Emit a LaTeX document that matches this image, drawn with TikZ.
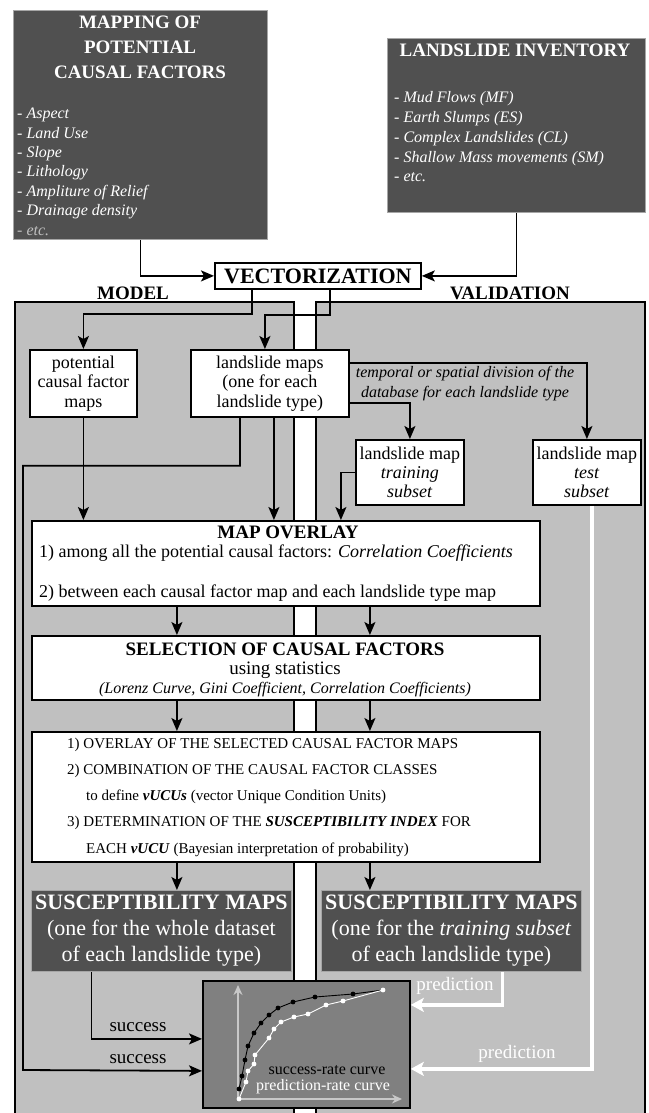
\documentclass[tikz,border=0pt]{standalone}
\usepackage{fontspec}
\setmainfont{Liberation Serif}
\usetikzlibrary{arrows.meta,calc}
\definecolor{darkfill}{RGB}{80,80,80}
\definecolor{panelfill}{RGB}{192,192,192}
\definecolor{chartfill}{RGB}{128,128,128}
\definecolor{axisgray}{RGB}{200,200,200}
\definecolor{etcgray}{RGB}{190,190,190}
\newcommand{\fsz}[2]{\fontsize{#1}{#2}\selectfont}
\begin{document}
\begin{tikzpicture}[x=1pt,y=-1pt,
  darkbx/.style={fill=darkfill, draw=gray!70, line width=0.8pt, inner sep=0pt, anchor=north west, text=white},
  whitebx/.style={fill=white, draw=black, line width=1.8pt, inner sep=0pt, anchor=north west, align=center},
  arr/.style={draw=black, line width=1.8pt, -{Stealth[length=13pt,width=11pt,inset=3pt]}},
  warr/.style={draw=white, line width=3.8pt, -{Stealth[length=13pt,width=14pt,inset=3pt]}},
  txt/.style={inner sep=0pt},
  panelline/.style={draw=black, line width=1.6pt},
]
\useasboundingbox (0,0) rectangle (648,1113);
\fill[white] (0,0) rectangle (648,1113);

% panels
\fill[panelfill] (15,302) rectangle (294,1113);
\draw[panelline] (15,1113) -- (15,302) -- (294,302) -- (294,1113);
\fill[panelfill] (316,302) rectangle (645,1113);
\draw[panelline] (316,1113) -- (316,302) -- (645,302) -- (645,1113);

% top boxes
\node[darkbx, minimum width=254, minimum height=229] (mapping) at (13,10) {};
\node[txt, anchor=north, text=white, font={\bfseries\fsz{19}{25}}, align=center] (mapT) at (140,16) {MAPPING OF\\POTENTIAL\\CAUSAL FACTORS};
\node[txt, anchor=north west, text=white, font={\itshape\fsz{16}{19.4}}, align=left] (mapI) at (17,108) {- Aspect\\- Land Use\\- Slope\\- Lithology\\- Ampliture of Relief\\- Drainage density\\\textcolor{etcgray}{- etc.}};

\node[darkbx, minimum width=258, minimum height=174] (inventory) at (387,38) {};
\node[txt, anchor=north, text=white, font={\bfseries\fsz{19}{25}}] (invT) at (515,44) {LANDSLIDE INVENTORY};
\node[txt, anchor=north west, text=white, font={\itshape\fsz{16}{19.9}}, align=left] (invI) at (394,91) {- Mud Flows (MF)\\- Earth Slumps (ES)\\- Complex Landslides (CL)\\- Shallow Mass movements (SM)\\- etc.};

% vectorization
\node[whitebx, minimum width=206, minimum height=26, font={\bfseries\fsz{22}{26}}] (vect) at (214,262) {VECTORIZATION};
\node[txt, font={\bfseries\fsz{19}{22}}] (model) at (133,293) {MODEL};
\node[txt, font={\bfseries\fsz{19}{22}}] (valid) at (510,293) {VALIDATION};

% second row
\node[whitebx, minimum width=107, minimum height=67, font={\fsz{18}{19.7}}] (potential) at (29,349) {potential\\causal factor\\maps};
\node[whitebx, minimum width=158, minimum height=67, font={\fsz{18}{19.7}}] (lsmaps) at (190,349) {landslide maps\\(one for each\\landslide type)};
\node[txt, font={\itshape\fsz{16}{20}}, align=center] (division) at (465,384) {temporal or spatial division of the\\database for each landslide type};
\node[whitebx, minimum width=108, minimum height=65, font={\fsz{18}{18.7}}] (train) at (355,439) {landslide map\\\textit{training}\\\textit{subset}};
\node[whitebx, minimum width=108, minimum height=65, font={\fsz{18}{18.7}}] (test) at (532,439) {landslide map\\\textit{test}\\\textit{subset}};

% map overlay
\node[whitebx, minimum width=508, minimum height=85] (overlay) at (31,520) {};
\node[txt, font={\bfseries\fsz{19}{22}}] (ovT) at (288,532) {MAP OVERLAY};
\node[txt, anchor=base west, font={\fsz{18}{20}}] (ov1) at (39,557.5) {1) among all the potential causal factors: \textit{Correlation Coefficients}};
\node[txt, anchor=base west, font={\fsz{18}{20}}] (ov2) at (39,597.5) {2) between each causal factor map and each landslide type map};

% selection
\node[whitebx, minimum width=508, minimum height=64] (selection) at (31,635) {};
\node[txt, font={\bfseries\fsz{19}{22}}] (selT) at (285,649) {SELECTION OF CAUSAL FACTORS};
\node[txt, anchor=base, font={\fsz{19}{22}}] (selU) at (285,674) {using statistics};
\node[txt, anchor=base, font={\itshape\fsz{16}{20}}] (selL) at (285,693) {(Lorenz Curve, Gini Coefficient, Correlation Coefficients)};

% list
\node[whitebx, minimum width=508, minimum height=130] (list) at (31,731) {};
\node[txt, anchor=north west, align=left, font={\fsz{15}{26.25}}] (listT) at (67,737.6) {1) OVERLAY OF THE SELECTED CAUSAL FACTOR MAPS\\
2) COMBINATION OF THE CAUSAL FACTOR CLASSES\\
\hspace*{19pt}to define \textbf{\textit{vUCUs}} (vector Unique Condition Units)\\
3) DETERMINATION OF THE \textbf{\textit{SUSCEPTIBILITY INDEX}} FOR\\
\hspace*{19pt}EACH \textbf{\textit{vUCU}} (Bayesian interpretation of probability)};

% susceptibility
\node[darkbx, minimum width=260, minimum height=81, align=center, font={\fsz{22}{26}}] (susL) at (31,890) {\textbf{SUSCEPTIBILITY MAPS}\\(one for the whole dataset\\of each landslide type)};
\node[darkbx, minimum width=260, minimum height=81, align=center, font={\fsz{22}{26}}] (susR) at (321,890) {\textbf{SUSCEPTIBILITY MAPS}\\(one for the \textit{training subset}\\of each landslide type)};

% chart
\node[fill=chartfill, draw=black, line width=1.8pt, minimum width=207, minimum height=127, anchor=north west, inner sep=0pt] (chart) at (202,980) {};
\draw[axisgray, line width=2pt, {Stealth[length=10pt,width=9pt]}-{Stealth[length=10pt,width=9pt]}] (238,985) -- (238,1099) -- (402,1099);
\draw[black, line width=0.9pt] plot coordinates {(239,1089) (242,1076) (245,1060) (248,1046) (254,1033) (261,1023) (269,1015) (278,1008) (293,1002) (315,997) (353,994) (383,990)};
\foreach \p in {(239,1089),(242,1076),(245,1060),(248,1046),(254,1033),(261,1023),(269,1015),(278,1008),(293,1002),(315,997),(353,994)} \fill[black] \p circle (2.4);
\draw[white, line width=0.9pt] plot coordinates {(239,1099) (246,1082) (248,1071) (254,1064) (255,1055) (269,1038) (274,1029) (281,1022) (294,1017) (308,1014) (326,1005) (343,1001) (383,990)};
\foreach \p in {(239,1099),(246,1082),(248,1071),(254,1064),(255,1055),(269,1038),(274,1029),(281,1022),(294,1017),(308,1014),(326,1005),(343,1001),(383,990)} \fill[white] \p circle (2.4);
\node[txt, font={\fsz{16}{18}}] (srLabel) at (327,1070) {success-rate curve};
\node[txt, text=white, font={\fsz{16}{18}}] (prLabel) at (323,1087) {prediction-rate curve};

% connectors
\coordinate (bendL) at (23,1070);
\coordinate (lsB) at ([xshift=4pt]lsmaps.south);
\coordinate (ovL) at ([xshift=-109pt]overlay.south);
\coordinate (ovR) at ([xshift=84pt]overlay.south);
\coordinate (seL) at ([xshift=-109pt]selection.south);
\coordinate (seR) at ([xshift=84pt]selection.south);
\coordinate (liL) at ([xshift=-109pt]list.south);
\coordinate (liR) at ([xshift=84pt]list.south);

\draw[arr] (mapping.south) |- (vect.west);
\draw[arr] (inventory.south) |- (vect.east);
\draw[arr] ([xshift=-66pt]vect.south) -- ++(0,24) -| (potential.north);
\draw[arr] ([xshift=12pt]vect.south) -- ++(0,25) -| ([xshift=-5pt]lsmaps.north);
\draw[arr] ([yshift=20.5pt]lsmaps.east) -| (test.north);
\draw[arr] ([yshift=-19.5pt]lsmaps.east) -| (train.north);
\draw[arr] (potential.south) -- (potential.south |- overlay.north);
\draw[arr] (lsB) -- (lsB |- overlay.north);
\draw[arr] ([xshift=-30pt]lsmaps.south) -- ++(0,48) -| (bendL) -- ([yshift=-26.5pt]chart.west);
\draw[arr] (train.west) -| ([xshift=55pt]overlay.north);
\draw[arr] (ovL) -- (ovL |- selection.north);
\draw[arr] (ovR) -- (ovR |- selection.north);
\draw[arr] (seL) -- (seL |- list.north);
\draw[arr] (seR) -- (seR |- list.north);
\draw[arr] (liL) -- (liL |- susL.north);
\draw[arr] (liR) -- (liR |- susR.north);
\draw[arr] ([xshift=-70pt]susL.south) |- ([yshift=5.5pt]chart.west);
\draw[warr] ([xshift=51pt]susR.south) |- ([yshift=39.5pt]chart.east);
\draw[warr] ([xshift=5pt]test.south) |- ([yshift=-24.5pt]chart.east);

\node[txt, font={\fsz{19}{22}}] (succ1) at (138,1027) {success};
\node[txt, font={\fsz{19}{22}}] (succ2) at (138,1059) {success};
\node[txt, text=white, font={\fsz{19}{22}}] (pred1) at (455,986) {prediction};
\node[txt, text=white, font={\fsz{19}{22}}] (pred2) at (517,1054) {prediction};
\end{tikzpicture}
\end{document}
